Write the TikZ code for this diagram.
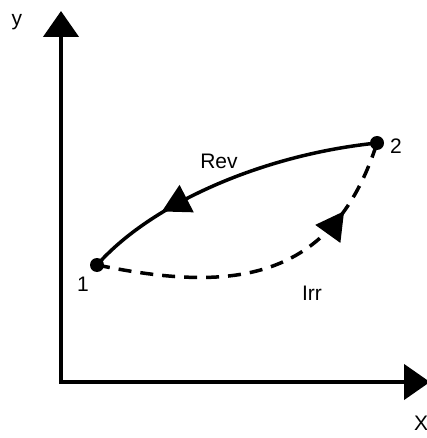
\documentclass[tikz,border=0pt]{standalone}
\usepackage{fontspec}
\setmainfont{Liberation Sans}
\usetikzlibrary{arrows.meta,decorations.markings}
\begin{document}
\begin{tikzpicture}[x=1pt,y=-1pt,
  axis/.style={line width=4.5pt,-{Triangle[length=26pt,width=35pt]}},
  pt/.style={circle,fill=black,inner sep=0pt,minimum size=14pt},
  lbl/.style={font=\fontsize{21}{24}\selectfont,inner sep=0pt},
  path/.style={line width=3.5pt},
  revmark/.style={postaction={decorate,decoration={markings,mark=at position 0.36 with {\arrow{Triangle[reversed,length=28pt,width=30pt]}}}}},
  irrmark/.style={postaction={decorate,decoration={markings,mark=at position 0.78 with {\arrow{Triangle[length=28pt,width=30pt]}}}}}]
\useasboundingbox (0,0) rectangle (427,438);
\coordinate (O) at (61,382);
\coordinate (Ytop) at (61,11);
\coordinate (Xend) at (430,382);
\draw[axis] ([yshift=2pt]O) -- (Ytop);
\draw[axis] ([xshift=-2pt]O) -- (Xend);
\node[lbl] (ylab) at (17,22) {y};
\node[lbl] (xlab) at (421,423) {X};
\node[pt] (p1) at (97,265) {};
\node[pt] (p2) at (377,143) {};
\node[lbl] (l1) at (83,284) {1};
\node[lbl] (l2) at (396,146) {2};
\draw[path,revmark] (p1.center) .. controls (150,205) and (260,155) .. (p2.center);
\draw[path,irrmark,dash pattern=on 13pt off 9pt] (p1.center) .. controls (220,290) and (330,290) .. (p2.center);
\node[lbl] (rev) at (219,161) {Rev};
\node[lbl] (irr) at (312,293) {Irr};
\end{tikzpicture}
\end{document}
